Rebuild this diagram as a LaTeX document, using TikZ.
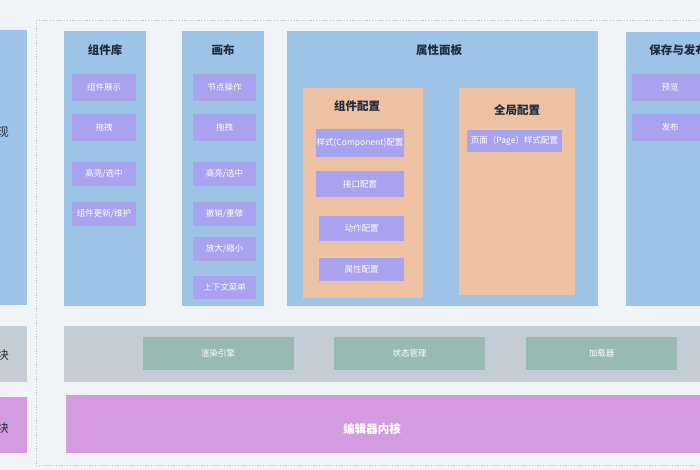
\documentclass[tikz,border=0pt]{standalone}
\usepackage{fontspec}
\setmainfont{Noto Sans CJK SC}
\definecolor{bgc}{HTML}{F0F4F7}
\definecolor{colblue}{HTML}{9DC3E6}
\definecolor{itempurple}{HTML}{A9A2EE}
\definecolor{cfgorange}{HTML}{EDC1A1}
\definecolor{rowgray}{HTML}{C4CDD6}
\definecolor{itemgreen}{HTML}{98BAB2}
\definecolor{kernel}{HTML}{D49CE0}
\definecolor{titlec}{HTML}{1F2B3B}
\definecolor{framec}{HTML}{BCC7D1}
\tikzset{
  area/.style={fill=#1, draw=none, inner sep=0pt},
  titletext/.style={text=titlec, font=\fontsize{11.5}{13}\selectfont\bfseries, inner sep=0pt},
  itemtext/.style={text=white, font=\fontsize{8.5}{10}\selectfont, inner sep=0pt},
  itembox/.style={fill=itempurple, draw=none, itemtext},
  greenbox/.style={fill=itemgreen, draw=none, itemtext},
}
\begin{document}
\begin{tikzpicture}[x=1pt,y=-1pt]
\useasboundingbox (0,0) rectangle (700,470);
\clip (0,0) rectangle (700,470);
\fill[bgc] (0,0) rectangle (700,470);
% dotted frame
\draw[framec, line width=0.8pt, dash pattern=on 1.2pt off 1.6pt] (36,20) rectangle (720,465);

% left cut-off column
\node[area=colblue, minimum width=82pt, minimum height=275pt] (lcol) at (-14,167.5) {};
\node[titletext, font=\fontsize{12}{13}\selectfont] (lcolt) at (3,132) {现};
\node[area=rowgray, minimum width=82pt, minimum height=56pt] (lrow) at (-14,354) {};
\node[titletext, font=\fontsize{12}{13}\selectfont] (lrowt) at (3,355) {块};
\node[area=kernel, minimum width=82pt, minimum height=56pt] (lker) at (-14,425) {};
\node[titletext, font=\fontsize{12}{13}\selectfont] (lkert) at (3,428) {块};

% 组件库
\node[area=colblue, minimum width=82pt, minimum height=275pt] (lib) at (105,168.5) {};
\node[titletext] (libt) at (105,50) {组件库};
\node[itembox, minimum width=64pt, minimum height=27pt] (lib1) at (104,87.5) {组件展示};
\node[itembox, minimum width=64pt, minimum height=27pt] (lib2) at (104,127.5) {拖拽};
\node[itembox, minimum width=64pt, minimum height=24pt] (lib3) at (104,174) {高亮/选中};
\node[itembox, minimum width=64pt, minimum height=24pt] (lib4) at (104,214) {组件更新/维护};

% 画布
\node[area=colblue, minimum width=82pt, minimum height=275pt] (cv) at (223,168.5) {};
\node[titletext] (cvt) at (223,50) {画布};
\node[itembox, minimum width=63pt, minimum height=27pt] (cv1) at (224.5,87.5) {节点操作};
\node[itembox, minimum width=63pt, minimum height=27pt] (cv2) at (224.5,127.5) {拖拽};
\node[itembox, minimum width=63pt, minimum height=24pt] (cv3) at (224.5,174) {高亮/选中};
\node[itembox, minimum width=63pt, minimum height=24pt] (cv4) at (224.5,214) {撤销/重做};
\node[itembox, minimum width=63pt, minimum height=24pt] (cv5) at (224.5,249) {放大/缩小};
\node[itembox, minimum width=63pt, minimum height=23pt] (cv6) at (224.5,287.5) {上下文菜单};

% 属性面板
\node[area=colblue, minimum width=311pt, minimum height=275pt] (pp) at (442.5,168.5) {};
\node[titletext] (ppt) at (439,50) {属性面板};
\node[area=cfgorange, minimum width=120pt, minimum height=210pt] (cc) at (363,193) {};
\node[titletext] (cct) at (357,106) {组件配置};
\node[itembox, minimum width=88pt, minimum height=28pt] (cc1) at (360,143) {样式(Component)配置};
\node[itembox, minimum width=88pt, minimum height=26pt] (cc2) at (360,184) {接口配置};
\node[itembox, minimum width=85pt, minimum height=25pt] (cc3) at (361.5,228.5) {动作配置};
\node[itembox, minimum width=85pt, minimum height=23pt] (cc4) at (361.5,269.5) {属性配置};
\node[area=cfgorange, minimum width=116pt, minimum height=207pt] (gc) at (517,191.5) {};
\node[titletext] (gct) at (517,110) {全局配置};
\node[itembox, minimum width=95pt, minimum height=22pt] (gc1) at (514.5,141) {页面（Page）样式配置};

% 保存与发布
\node[area=colblue, minimum width=84pt, minimum height=274pt] (sv) at (668,169) {};
\node[titletext] (svt) at (678,50) {保存与发布};
\node[itembox, minimum width=76pt, minimum height=27pt] (sv1) at (670,87.5) {预览};
\node[itembox, minimum width=76pt, minimum height=27pt] (sv2) at (670,127.5) {发布};

% middle row
\node[area=rowgray, minimum width=656pt, minimum height=56pt] (row) at (392,354) {};
\node[greenbox, minimum width=151pt, minimum height=33pt] (g1) at (218,353.5) {渲染引擎};
\node[greenbox, minimum width=151pt, minimum height=33pt] (g2) at (409.5,353.5) {状态管理};
\node[greenbox, minimum width=151pt, minimum height=33pt] (g3) at (601.5,353.5) {加载器};

% kernel
\node[area=kernel, minimum width=654pt, minimum height=58pt] (ker) at (393,424) {};
\node[text=white, font=\fontsize{11.5}{13}\selectfont\bfseries, inner sep=0pt] (kert) at (372,429) {编辑器内核};
\end{tikzpicture}
\end{document}
